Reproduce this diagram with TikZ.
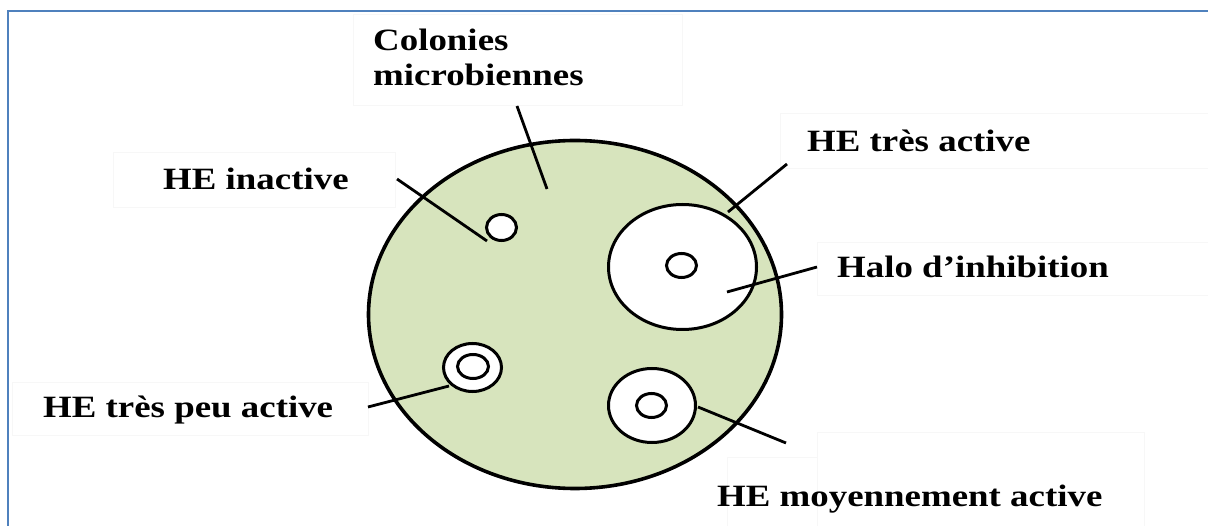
\documentclass[tikz,border=0pt]{standalone}
\usepackage{fontspec}
\setmainfont[FakeStretch=1.19]{Liberation Serif}
\usetikzlibrary{shapes.geometric}
\definecolor{agar}{RGB}{215,228,189}
\definecolor{frameblue}{RGB}{79,129,189}
\definecolor{faint}{RGB}{247,247,247}
\tikzset{
  lbl/.style={anchor=base west, inner sep=0pt, font=\bfseries\fontsize{31}{35}\selectfont},
  lblbox/.style={draw=faint, line width=0.8pt},
  disc/.style={ellipse, draw=black, line width=3pt, fill=white, inner sep=0pt},
  plate/.style={ellipse, draw=black, line width=3.6pt, fill=agar, inner sep=0pt},
  pointer/.style={draw=black, line width=2.8pt},
  frame/.style={draw=frameblue, line width=1.6pt}
}
\begin{document}
\begin{tikzpicture}[x=1pt,y=-1pt]
\useasboundingbox (0,0) rectangle (1208,526);
\fill[white] (0,0) rectangle (1208,526);
% frame
\draw[frame] (8,526) -- (8,11) -- (1208,11);
% faint label boxes
\draw[lblbox] (353,14) rectangle (682,105);
\draw[lblbox] (113,152) rectangle (395,207);
\draw[lblbox] (780,113) rectangle (1210,168);
\draw[lblbox] (817,242) rectangle (1210,295);
\draw[lblbox] (12,382) rectangle (368,435);
\draw[lblbox] (817,432) rectangle (1144,530);
\draw[lblbox] (727,457) rectangle (817,530);
% plate
\node[plate, minimum width=413pt, minimum height=348pt] (plate) at (575,314.5) {};
% discs
\node[disc, minimum width=30pt, minimum height=26pt] (inact) at (501.5,227.5) {};
\node[disc, minimum width=148pt, minimum height=125pt] (halo) at (682.5,267) {};
\node[disc, minimum width=30pt, minimum height=24pt] (haloin) at (681.5,265.5) {};
\node[disc, minimum width=58pt, minimum height=48pt] (peu) at (472.5,367.5) {};
\node[disc, minimum width=31pt, minimum height=24pt] (peuin) at (473,366.5) {};
\node[disc, minimum width=87pt, minimum height=74pt] (moy) at (652,405.5) {};
\node[disc, minimum width=30pt, minimum height=24pt] (moyin) at (651.5,405.5) {};
% labels
\node[lbl, anchor=north west, align=left] (col) at (373,29) {Colonies\\microbiennes};
\node[lbl] (linact) at (163,190) {HE inactive};
\node[lbl] (ltres) at (807,152) {HE très active};
\node[lbl] (lhalo) at (837,278) {Halo d’inhibition};
\node[lbl] (lpeu) at (43,418) {HE très peu active};
\node[lbl] (lmoy) at (717,507) {HE moyennement active};
% pointer ends
\coordinate (c1) at (517,106);  \coordinate (c2) at (547,189);
\coordinate (i1) at (397,179);  \coordinate (i2) at (487,241);
\coordinate (t1) at (787,164);  \coordinate (t2) at (728,212);
\coordinate (h1) at (817,267);  \coordinate (h2) at (727,292);
\coordinate (p1) at (368,407);  \coordinate (p2) at (449,386);
\coordinate (m1) at (698,407);  \coordinate (m2) at (786,443);
\draw[pointer] (c1) -- (c2);
\draw[pointer] (i1) -- (i2);
\draw[pointer] (t1) -- (t2);
\draw[pointer] (h1) -- (h2);
\draw[pointer] (p1) -- (p2);
\draw[pointer] (m1) -- (m2);
\end{tikzpicture}
\end{document}
